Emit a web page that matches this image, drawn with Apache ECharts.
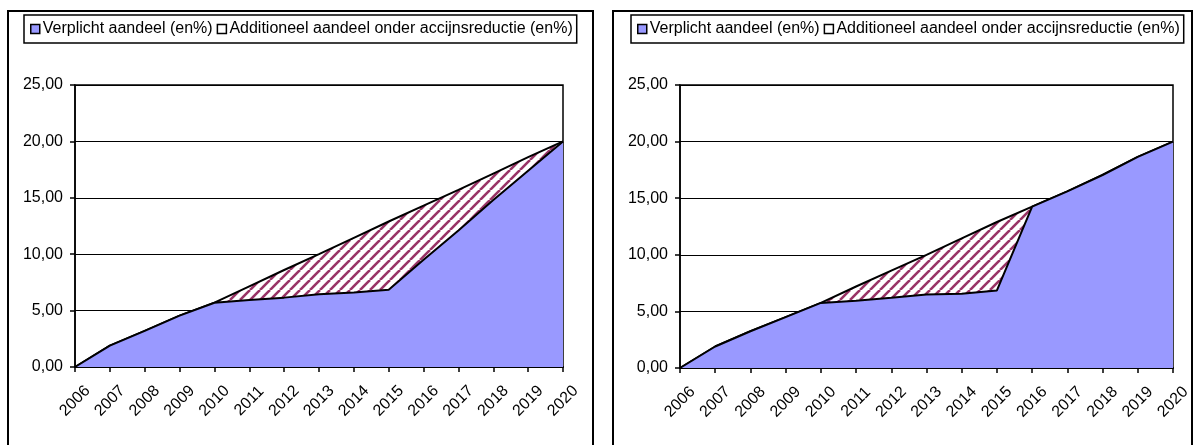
<!DOCTYPE html>
<html>
<head>
<meta charset="utf-8">
<script src="https://cdn.jsdelivr.net/npm/echarts@6/dist/echarts.min.js"></script>
<style>
html,body{margin:0;padding:0;background:#fff;}
#c{width:1194px;height:445px;}
</style>
</head>
<body>
<div id="c"></div>
<script>
// Data
var years = ['2006','2007','2008','2009','2010','2011','2012','2013','2014','2015','2016','2017','2018','2019','2020'];
var verplichtLeft = [0, 1.9, 3.2, 4.55, 5.7, 5.95, 6.15, 6.45, 6.6, 6.85, 9.5, 12.1, 14.8, 17.4, 20];
var additioneelLeft = [0, 0, 0, 0, 0, 1.2, 2.45, 3.55, 4.85, 6.05, 4.8, 3.6, 2.35, 1.2, 0];
var verplichtRight = [0, 1.9, 3.25, 4.5, 5.75, 5.95, 6.2, 6.5, 6.55, 6.85, 14.25, 15.6, 17.05, 18.65, 20];
var additioneelRight = [0, 0, 0, 0, 0, 1.25, 2.4, 3.5, 4.9, 6.05, 0, 0, 0, 0, 0];
var yTicks = [0, 5, 10, 15, 20, 25];
var nameA = 'Verplicht aandeel (en%)';
var nameB = 'Additioneel aandeel onder accijnsreductie (en%)';

// hatch pattern
var T = 10;
var pc = document.createElement('canvas');
pc.width = T; pc.height = T;
var g = pc.getContext('2d');
g.fillStyle = '#ffffff'; g.fillRect(0,0,T,T);
g.strokeStyle = '#993366'; g.lineWidth = 2.6;
[-T, 0, T].forEach(function(k){ g.beginPath(); g.moveTo(k, T); g.lineTo(k + T, 0); g.stroke(); });

var FONT = '"Liberation Sans", Arial, sans-serif';
var chart = echarts.init(document.getElementById('c'), null, {renderer: 'canvas'});

function grid(left, right, bottom) {
  return {left: left, right: right, top: 85, bottom: bottom, show: true,
    borderColor: '#000', borderWidth: 1.5, backgroundColor: '#fff', containLabel: false};
}
function xAx(i) {
  return {type: 'category', gridIndex: i, data: years, boundaryGap: false,
    axisLine: {lineStyle: {color: '#000', width: 2}},
    axisTick: {show: true, length: 5, lineStyle: {color: '#000', width: 1.5}},
    axisLabel: {rotate: 45, margin: 34, align: 'center', verticalAlign: 'middle',
      color: '#000', fontSize: 16, fontFamily: FONT, interval: 0},
    splitLine: {show: false}};
}
function yAx(i) {
  return {type: 'value', gridIndex: i, min: yTicks[0], max: yTicks[yTicks.length-1], interval: 5,
    axisLine: {show: true, lineStyle: {color: '#000', width: 1.5}},
    axisTick: {show: true, length: 5, lineStyle: {color: '#000', width: 1.5}},
    axisLabel: {color: '#000', fontSize: 16, fontFamily: FONT, margin: 12,
      formatter: function(v){ return v.toFixed(2).replace('.', ','); }},
    splitLine: {show: true, lineStyle: {color: '#000', width: 1}}};
}
function legend(left) {
  return {left: left, top: 15, orient: 'horizontal',
    borderColor: '#000', borderWidth: 1.5, padding: [6, 4, 6, 6], itemGap: 4,
    itemWidth: 9, itemHeight: 9, icon: 'rect',
    textStyle: {color: '#000', fontSize: 16, fontFamily: FONT, padding: [0, 0, 0, -2]},
    data: [
      {name: nameA, itemStyle: {color: '#9999ff', borderColor: '#000', borderWidth: 1.5}},
      {name: nameB, itemStyle: {color: '#ffffff', borderColor: '#000', borderWidth: 1.5}}
    ]};
}
function seriesPair(i, a, b) {
  return [
    {name: nameA, type: 'line', xAxisIndex: i, yAxisIndex: i, stack: 's' + i, data: a,
      symbol: 'none', lineStyle: {color: '#000', width: 2}, itemStyle: {color: '#9999ff'},
      areaStyle: {color: '#9999ff', opacity: 1}, z: 3},
    {name: nameB, type: 'line', xAxisIndex: i, yAxisIndex: i, stack: 's' + i, data: b,
      symbol: 'none', lineStyle: {color: '#000', width: 2}, itemStyle: {color: '#ffffff'},
      areaStyle: {color: {image: pc, repeat: 'repeat'}, opacity: 1}, z: 2}
  ];
}

chart.setOption({
  animation: false,
  backgroundColor: '#fff',
  legend: [legend(24), legend(631)],
  grid: [grid(75, 1194 - 563, 445 - 367), grid(680, 1194 - 1173, 445 - 368)],
  xAxis: [xAx(0), xAx(1)],
  yAxis: [yAx(0), yAx(1)],
  series: seriesPair(0, verplichtLeft, additioneelLeft).concat(seriesPair(1, verplichtRight, additioneelRight)),
  graphic: [
    {type: 'rect', shape: {x: 8, y: 11, width: 585, height: 450}, style: {fill: 'none', stroke: '#000', lineWidth: 2}, silent: true},
    {type: 'rect', shape: {x: 613, y: 11, width: 579, height: 450}, style: {fill: 'none', stroke: '#000', lineWidth: 2}, silent: true}
  ]
});
</script>
</body>
</html>
